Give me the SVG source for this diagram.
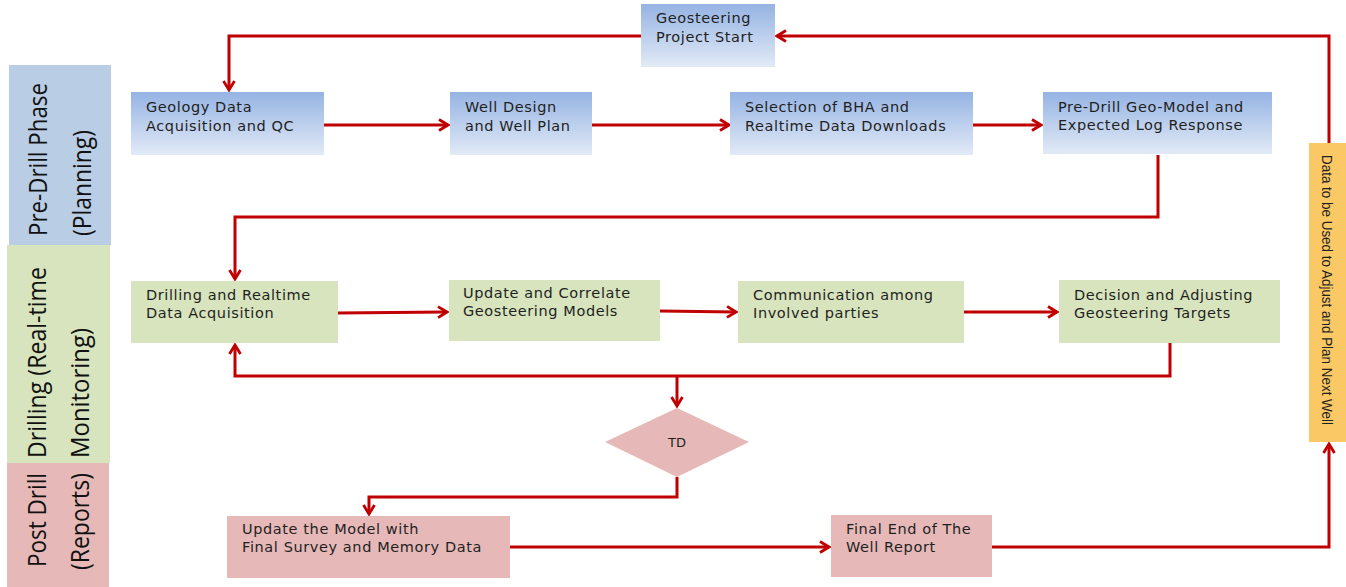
<svg xmlns="http://www.w3.org/2000/svg" width="1346" height="587" viewBox="0 0 1346 587">
<defs>
<linearGradient id="blueG" x1="0" y1="0" x2="0" y2="1">
<stop offset="0" stop-color="#95b3e3"/>
<stop offset="1" stop-color="#e2eaf6"/>
</linearGradient>
<marker id="arr" viewBox="0 0 14 14" refX="12" refY="7" markerWidth="14" markerHeight="14" markerUnits="userSpaceOnUse" orient="auto">
<polyline points="3,1.5 12,7 3,12.5" fill="none" stroke="#c00000" stroke-width="2.8"/>
</marker>
<style>
.lbl{font-family:"DejaVu Sans","Liberation Sans",sans-serif;font-size:14.5px;letter-spacing:0.6px;fill:#1f1f1f}
.ph{font-family:"Open Sans","Liberation Sans",sans-serif;font-size:25px;fill:#111}
.con{fill:none;stroke:#c00000;stroke-width:3}
.blue{fill:url(#blueG)}
.green{fill:#d7e4bd}
.pink{fill:#e6b9b8}
</style>
</defs>
<rect width="1346" height="587" fill="#ffffff"/>

<g id="phase-predrill">
<rect x="9" y="65" width="102" height="180" fill="#b9cde5"/>
<text class="ph" transform="translate(47,236) rotate(-90)" textLength="153" lengthAdjust="spacingAndGlyphs">Pre-Drill Phase</text>
<text class="ph" transform="translate(91,236) rotate(-90)" textLength="106" lengthAdjust="spacingAndGlyphs">(Planning)</text>
</g>
<g id="phase-drilling">
<rect x="7" y="245" width="103" height="218" fill="#d7e4bd"/>
<text class="ph" transform="translate(46,458) rotate(-90)" textLength="191" lengthAdjust="spacingAndGlyphs">Drilling (Real-time</text>
<text class="ph" transform="translate(89,458) rotate(-90)" textLength="130" lengthAdjust="spacingAndGlyphs">Monitoring)</text>
</g>
<g id="phase-postdrill">
<rect x="7" y="463" width="102" height="124" fill="#e6b9b8"/>
<text class="ph" transform="translate(46,567) rotate(-90)" textLength="94" lengthAdjust="spacingAndGlyphs">Post Drill</text>
<text class="ph" transform="translate(89,570) rotate(-90)" textLength="97" lengthAdjust="spacingAndGlyphs">(Reports)</text>
</g>

<g id="connectors">
<polyline class="con" points="641,36 229,36 229,90" marker-end="url(#arr)"/>
<line class="con" x1="324" y1="125" x2="448" y2="125" marker-end="url(#arr)"/>
<line class="con" x1="592" y1="125" x2="729" y2="125" marker-end="url(#arr)"/>
<line class="con" x1="973" y1="125" x2="1041" y2="125" marker-end="url(#arr)"/>
<polyline class="con" points="1158,155 1158,217 235,217 235,279" marker-end="url(#arr)"/>
<line class="con" x1="338" y1="313" x2="447" y2="312" marker-end="url(#arr)"/>
<line class="con" x1="660" y1="311" x2="736" y2="312" marker-end="url(#arr)"/>
<line class="con" x1="964" y1="312" x2="1057" y2="312" marker-end="url(#arr)"/>
<polyline class="con" points="1170,343 1170,376 235,376 235,345" marker-end="url(#arr)"/>
<line class="con" x1="677" y1="376" x2="677" y2="406" marker-end="url(#arr)"/>
<polyline class="con" points="677,477 677,497 369,497 369,514" marker-end="url(#arr)"/>
<line class="con" x1="510" y1="547" x2="829" y2="547" marker-end="url(#arr)"/>
<polyline class="con" points="992,547 1329,547 1329,444" marker-end="url(#arr)"/>
<polyline class="con" points="1329,143 1329,36 777,36" marker-end="url(#arr)"/>
</g>

<g id="n-start">
<rect class="blue" x="641" y="4" width="134" height="63"/>
<text class="lbl" x="656" y="23">Geosteering</text>
<text class="lbl" x="656" y="42">Project Start</text>
</g>
<g id="n-geology">
<rect class="blue" x="131" y="92" width="193" height="63"/>
<text class="lbl" x="146" y="112">Geology Data</text>
<text class="lbl" x="146" y="131">Acquisition and QC</text>
</g>
<g id="n-welldesign">
<rect class="blue" x="450" y="92" width="142" height="63"/>
<text class="lbl" x="465" y="112">Well Design</text>
<text class="lbl" x="465" y="131">and Well Plan</text>
</g>
<g id="n-bha">
<rect class="blue" x="730" y="92" width="243" height="63"/>
<text class="lbl" x="745" y="112">Selection of BHA  and</text>
<text class="lbl" x="745" y="131">Realtime Data  Downloads</text>
</g>
<g id="n-predrill">
<rect class="blue" x="1043" y="92" width="229" height="62"/>
<text class="lbl" x="1058" y="112">Pre-Drill Geo-Model and</text>
<text class="lbl" x="1058" y="130">Expected Log  Response</text>
</g>
<g id="n-drilling">
<rect class="green" x="131" y="281" width="207" height="62"/>
<text class="lbl" x="146" y="300">Drilling and Realtime</text>
<text class="lbl" x="146" y="318">Data  Acquisition</text>
</g>
<g id="n-update">
<rect class="green" x="449" y="280" width="211" height="61"/>
<text class="lbl" x="463" y="298">Update and Correlate</text>
<text class="lbl" x="463" y="316">Geosteering Models</text>
</g>
<g id="n-communication">
<rect class="green" x="738" y="281" width="226" height="62"/>
<text class="lbl" x="753" y="300">Communication among</text>
<text class="lbl" x="753" y="318">Involved  parties</text>
</g>
<g id="n-decision">
<rect class="green" x="1059" y="280" width="221" height="63"/>
<text class="lbl" x="1074" y="300">Decision and Adjusting</text>
<text class="lbl" x="1074" y="318">Geosteering Targets</text>
</g>
<g id="n-td">
<polygon class="pink" points="677,408 749,442 677,477 605,442"/>
<text class="lbl" x="677" y="447" text-anchor="middle" style="font-size:13px;letter-spacing:0">TD</text>
</g>
<g id="n-updatemodel">
<rect class="pink" x="227" y="516" width="283" height="62"/>
<text class="lbl" x="242" y="534">Update the Model with</text>
<text class="lbl" x="242" y="552">Final Survey and Memory Data</text>
</g>
<g id="n-final">
<rect class="pink" x="831" y="515" width="161" height="62"/>
<text class="lbl" x="846" y="534">Final End of The</text>
<text class="lbl" x="846" y="552"> Well Report</text>
</g>
<g id="n-data">
<rect x="1309" y="143" width="37" height="299" fill="#fac864"/>
<text transform="translate(1322,155) rotate(90)" style="font-family:'Liberation Sans',sans-serif;font-size:14px;fill:#1f1f1f" textLength="270" lengthAdjust="spacingAndGlyphs">Data to be Used to Adjust and Plan Next Well</text>
</g>
</svg>
